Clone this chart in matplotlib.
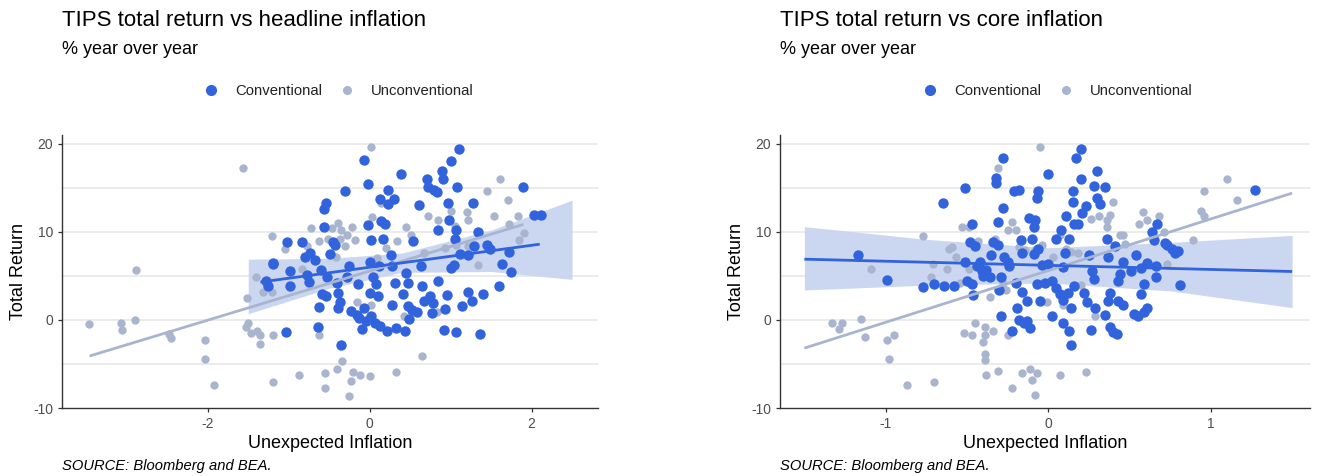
import matplotlib
matplotlib.use("Agg")
import matplotlib.pyplot as plt
from matplotlib.lines import Line2D
import numpy as np

plt.rcParams['font.family'] = ['Liberation Sans', 'DejaVu Sans']

# ---------------- data: headline panel ----------------
head_unconv_x = [-3.47, -3.07, -3.06, -2.90, -2.88, -2.48, -2.45, -2.03, -2.04, -1.92, -1.57, -1.52, -1.53,
                 -1.50, -1.46, -1.40, -1.39, -1.35, -1.36, -1.32, -1.21, -1.21, -1.19, -1.20, -1.05, -0.87,
                 -0.83, -0.73, -0.77, -0.63, -0.62, -0.55, -0.55, -0.52, -0.47, -0.41, -0.39, -0.40, -0.37,
                 -0.35, -0.31, -0.28, -0.22, -0.18, -0.23, -0.20, -0.25, -0.34, -0.12, -0.16, 0.00, 0.02,
                 0.03, 0.02, 0.09, 0.14, 0.20, 0.34, 0.33, 0.45, 0.51, 0.42, 0.65, 0.67, 0.72, 0.83, 0.85,
                 0.93, 1.01, 1.06, 1.20, 1.21, 1.21, 1.34, 1.45, 1.54, 1.61, 1.71, 1.72, 1.83, 1.85, 1.90, 1.07]
head_unconv_y = [-0.5, -0.4, -1.1, 0.0, 5.7, -1.6, -2.0, -2.3, -4.4, -7.4, 17.2, 2.5, -0.8,
                 -0.3, -1.5, 4.9, -1.3, -1.7, -2.7, 3.2, 3.2, 9.5, -1.7, -7.1, 8.1, -6.3,
                 5.8, 10.4, 8.4, -1.7, 9.0, -6.0, -7.7, 9.2, 10.4, 7.1, 11.0, -5.6, 9.2,
                 10.2, 8.4, 9.6, 10.5, 9.1, -6.9, -5.9, -8.6, -4.7, -6.2, 2.0, -6.4, 19.6,
                 11.7, 1.7, 7.0, 13.3, 8.2, 9.0, -5.9, 10.5, 9.6, 0.4, -4.1, 7.6, 11.8, 0.9, 11.4,
                 8.2, 12.4, 10.7, 12.2, 11.4, 8.4, 6.2, 14.6, 11.8, 16.0, 13.6, 10.9, 11.8, 9.1, 9.9, 8.5]

head_conv_x = [-1.03, -1.19, -1.20, -1.28, -1.26, -1.02, -0.99, -0.98, -0.83, -0.80, -0.78, -0.75, -0.74,
               -0.67, -0.64, -0.62, -0.60, -0.59, -0.57, -0.54, -0.57, -0.54, -0.53, -0.49, -0.45, -0.43,
               -0.40, -0.39, -0.37, -0.39, -0.35, -0.30, -0.28, -0.26, -0.23, -0.16, -0.15, -0.13, -0.10,
               -0.07, -0.07, -0.04, -0.02, -0.02, 0.00, 0.02, 0.01, 0.04, 0.02, 0.07, 0.08, 0.10, 0.12,
               0.13, 0.13, 0.14, 0.17, 0.19, 0.21, 0.23, 0.23, 0.26, 0.27, 0.28, 0.30, 0.31, 0.32, 0.39,
               0.41, 0.44, 0.45, 0.47, 0.47, 0.49, 0.52, 0.54, 0.59, 0.61, 0.63, 0.65, 0.67, 0.71, 0.72,
               0.75, 0.77, 0.78, 0.80, 0.83, 0.84, 0.85, 0.89, 0.90, 0.92, 0.93, 0.95, 0.97, 0.98, 1.00,
               1.01, 1.04, 1.06, 1.07, 1.07, 1.08, 1.10, 1.11, 1.14, 1.21, 1.22, 1.26, 1.28, 1.29, 1.34,
               1.36, 1.40, 1.45, 1.48, 1.60, 1.64, 1.72, 1.75, 1.89, 2.03, 2.12]
head_conv_y = [-1.4, 6.3, 6.5, 4.4, 3.9, 8.9, 5.6, 3.8, 8.9, 7.2, 5.1, 4.3, 7.6,
               6.8, -0.8, 1.5, 5.7, 3.0, 12.6, 13.3, 10.5, 2.7, 4.9, 7.5, 8.9, 8.5,
               4.2, 3.1, 2.0, 1.3, -2.9, 14.6, 4.9, 6.1, 1.0, 0.6, 4.1, 0.2, -1.0,
               18.2, 1.4, -0.1, 15.4, 10.8, 3.1, 9.1, 6.6, 4.9, 0.4, -0.4, 4.1, 2.7, 6.1,
               -0.7, 13.7, 11.2, 9.2, 10.9, -1.3, 14.8, 13.2, 7.4, 6.1, 1.7, 13.7, 4.2, -0.9, 16.6,
               3.0, -1.2, 5.3, 4.2, 1.6, 0.1, 1.1, 9.0, 0.9, 13.0, 6.1, 3.8, 2.1, 16.0, 15.1,
               2.7, 0.8, 1.9, 14.7, 14.5, 10.2, 4.4, 16.9, 16.0, -1.1, 1.2, 2.8, 13.3, 11.3, 5.9,
               18.1, 6.2, 9.2, -1.4, 10.2, 15.1, 19.4, 7.5, 1.6, 7.4, 3.2, 2.1, 13.3, 8.4, 10.0,
               -1.6, 3.0, 8.5, 8.1, 3.9, 6.4, 7.7, 5.4, 15.1, 11.9, 11.9]

head_conv_fit_x = [-1.35, 2.10]
head_conv_fit_y = [4.3, 8.6]
head_unconv_fit_x = [-3.46, 1.90]
head_unconv_fit_y = [-4.1, 10.85]
head_band_x = [-1.5, -0.5, 0.4, 1.5, 2.5]
head_band_lo = [0.7, 3.6, 5.4, 5.5, 4.6]
head_band_hi = [6.9, 7.0, 7.6, 10.2, 13.6]

# ---------------- data: core panel ----------------
core_unconv_x = [-1.33, -1.29, -1.27, -1.15, -1.13, -1.09, -0.99, -0.95, -0.98, -0.87, -0.77, -0.72, -0.71,
                 -0.70, -0.62, -0.61, -0.59, -0.57, -0.53, -0.52, -0.49, -0.49, -0.47, -0.45, -0.54, -0.43,
                 -0.40, -0.39, -0.39, -0.39, -0.39, -0.38, -0.36, -0.34, -0.33, -0.31, -0.31, -0.28, -0.26,
                 -0.25, -0.25, -0.22, -0.22, -0.20, -0.18, -0.16, -0.14, -0.11, -0.10, -0.08, -0.07, -0.08,
                 -0.05, -0.04, -0.04, -0.01, 0.03, 0.07, 0.07, 0.09, 0.11, 0.14, 0.18, 0.20, 0.23, 0.26,
                 0.29, 0.31, 0.36, 0.36, 0.40, 0.38, 0.44, 0.46, 0.47, 0.56, 0.58, 0.61, 0.68, 0.71, 0.73,
                 0.89, 0.94, 0.96, 0.96, 1.10, 1.16]
core_unconv_y = [-0.4, -1.0, -0.3, 0.05, -1.9, 5.8, -2.3, -1.7, -4.4, -7.4, 9.5, 4.9, 6.4,
                 -7.0, 5.8, 8.1, 8.3, 7.1, 10.5, -1.5, 10.5, 5.8, -1.7, -0.4, 4.2, 9.0,
                 -2.5, -0.8, -1.7, -3.9, -4.6, -6.2, 2.6, -1.3, 9.2, 17.3, -5.8, 4.2, 3.4,
                 10.2, -1.7, -7.7, 11.1, 10.2, 8.3, -6.0, 7.9, -5.6, -6.8, -8.5, -6.0, 7.9,
                 19.6, 8.5, 4.2, 2.0, 7.1, -6.3, 9.6, 1.7, 8.1, 7.7, 7.6, 4.0, -5.9, 11.5,
                 0.5, 11.8, 10.6, 11.3, 13.4, 11.9, 9.7, 9.6, 8.6, 10.9, 12.3, 11.4, 11.8, 10.0, 6.4,
                 9.1, 12.4, 11.8, 14.6, 16.0, 13.6]

core_conv_x = [-1.17, -0.99, -0.77, -0.70, -0.65, -0.64, -0.58, -0.51, -0.51, -0.50, -0.47, -0.48, -0.47,
               -0.46, -0.45, -0.44, -0.42, -0.41, -0.40, -0.38, -0.36, -0.35, -0.34, -0.32, -0.32, -0.31,
               -0.31, -0.30, -0.29, -0.29, -0.28, -0.28, -0.27, -0.25, -0.24, -0.22, -0.21, -0.20, -0.19,
               -0.18, -0.18, -0.17, -0.16, -0.16, -0.15, -0.13, -0.13, -0.12, -0.11, -0.10, -0.09, -0.09,
               -0.08, -0.07, -0.07, -0.06, -0.06, -0.05, -0.04, -0.02, 0.00, 0.00, 0.02, 0.02, 0.05, 0.05,
               0.07, 0.08, 0.09, 0.09, 0.09, 0.10, 0.11, 0.12, 0.13, 0.13, 0.14, 0.14, 0.15, 0.15, 0.16,
               0.16, 0.17, 0.18, 0.20, 0.20, 0.21, 0.22, 0.23, 0.24, 0.25, 0.26, 0.27, 0.28, 0.28, 0.29,
               0.30, 0.30, 0.32, 0.35, 0.35, 0.36, 0.37, 0.37, 0.38, 0.38, 0.40, 0.41, 0.42, 0.43, 0.43,
               0.44, 0.46, 0.46, 0.51, 0.53, 0.54, 0.55, 0.57, 0.57, 0.59, 0.59, 0.61, 0.61, 0.64, 0.65,
               0.66, 0.67, 0.66, 0.72, 0.73, 0.76, 0.78, 0.80, 0.81, 1.27]
core_conv_y = [7.4, 4.5, 3.7, 4.1, 13.3, 3.9, 3.9, 6.6, 15.0, 4.4, 4.1, 8.8, 10.9,
               2.8, 8.4, 6.1, 6.6, 5.5, 5.0, 5.7, 4.9, 7.4, 8.9, 16.1, 15.5, 11.1,
               8.5, 3.4, 0.5, 4.9, 12.7, 18.4, 7.1, 6.6, 6.1, -1.3, 14.6, 4.2, 1.3,
               14.8, 0.0, 9.1, 7.6, 3.2, -0.4, 2.2, -0.1, 11.6, -0.9, 9.2, 7.5, 10.5,
               11.4, 4.1, 13.9, 14.6, 8.1, 2.1, 6.2, 4.2, 6.4, 16.6, 4.4, 0.4, 9.2, 3.6,
               2.9, 10.2, 6.0, -0.4, 2.3, 7.6, 11.8, 3.1, -1.3, 9.2, -2.9, 1.3, 13.4, 14.6, 10.9,
               3.8, 18.4, 10.9, 19.4, 16.0, 12.1, 3.1, 12.9, 2.0, 7.4, -1.1, 5.5, 4.6, 15.2, 1.3,
               16.9, 13.9, 13.2, 0.6, 15.1, 9.2, 7.2, 2.1, 3.1, -0.8, -1.4, 8.4, -1.6, 4.4, 2.1,
               5.2, 6.6, 1.7, 5.5, 0.7, 7.4, 0.4, 2.9, 5.9, 0.9, 4.1, 1.3, 6.5, 10.0, 9.1,
               4.9, 10.9, 6.1, 8.7, 8.5, 8.1, 7.6, 7.8, 4.0, 14.8]

core_conv_fit_x = [-1.5, 1.5]
core_conv_fit_y = [6.9, 5.5]
core_unconv_fit_x = [-1.5, 1.5]
core_unconv_fit_y = [-3.2, 14.4]
core_band_x = [-1.5, -0.75, 0.0, 0.75, 1.5]
core_band_lo = [3.4, 3.95, 4.2, 3.3, 1.4]
core_band_hi = [10.6, 9.15, 8.2, 8.8, 9.6]

titles = ["TIPS total return vs headline inflation", "TIPS total return vs core inflation"]
subtitle = "% year over year"
source = "SOURCE: Bloomberg and BEA."
series_names = ["Conventional", "Unconventional"]

BLUE = "#3163DC"
GRAY = "#A9B4CF"
BAND = "#C9D5F1"

W, H = 1317, 476
fig = plt.figure(figsize=(W / 100, H / 100), dpi=100)

panels = [
    dict(ux=head_unconv_x, uy=head_unconv_y, cx=head_conv_x, cy=head_conv_y,
         cfx=head_conv_fit_x, cfy=head_conv_fit_y, ufx=head_unconv_fit_x, ufy=head_unconv_fit_y,
         bx=head_band_x, blo=head_band_lo, bhi=head_band_hi,
         xlim=(-3.8, 2.82), xticks=[-2, 0, 2], left=62, right=598, title=titles[0], legx=339),
    dict(ux=core_unconv_x, uy=core_unconv_y, cx=core_conv_x, cy=core_conv_y,
         cfx=core_conv_fit_x, cfy=core_conv_fit_y, ufx=core_unconv_fit_x, ufy=core_unconv_fit_y,
         bx=core_band_x, blo=core_band_lo, bhi=core_band_hi,
         xlim=(-1.65, 1.61), xticks=[-1, 0, 1], left=780, right=1310, title=titles[1], legx=1058),
]

top_px, bot_px = 135, 408
for p in panels:
    ax = fig.add_axes([p['left'] / W, 1 - bot_px / H, (p['right'] - p['left']) / W, (bot_px - top_px) / H])
    ax.set_xlim(*p['xlim'])
    ax.set_ylim(-10.0, 21.0)
    for gy in [-5, 0, 5, 10, 15, 20]:
        ax.axhline(gy, color="#EBEBEB", lw=1.4, zorder=0)
    ax.fill_between(p['bx'], p['blo'], p['bhi'], color=BAND, lw=0, zorder=1, alpha=0.95)
    ax.scatter(p['ux'], p['uy'], s=36, color=GRAY, lw=0, zorder=2)
    ax.scatter(p['cx'], p['cy'], s=56, color=BLUE, lw=0, zorder=3)
    ax.plot(p['ufx'], p['ufy'], color=GRAY, lw=2.0, zorder=4, solid_capstyle='butt')
    ax.plot(p['cfx'], p['cfy'], color=BLUE, lw=2.0, zorder=5, solid_capstyle='butt')
    ax.set_xticks(p['xticks'])
    ax.set_xticklabels([str(t) for t in p['xticks']])
    ax.set_yticks([-10, 0, 10, 20])
    ax.set_yticklabels(["-10", "0", "10", "20"])
    for s in ['top', 'right']:
        ax.spines[s].set_visible(False)
    for s in ['left', 'bottom']:
        ax.spines[s].set_color("#333333")
        ax.spines[s].set_linewidth(1.0)
    ax.tick_params(axis='both', colors="#333333", labelcolor="#4D4D4D", labelsize=10, length=3, width=0.9)
    ax.set_xlabel("Unexpected Inflation", fontsize=13, color="black", labelpad=3)
    ax.set_ylabel("Total Return", fontsize=13, color="black", labelpad=4)
    ax.set_facecolor("white")

    handles = [Line2D([], [], marker='o', ls='none', color=BLUE, markersize=7),
               Line2D([], [], marker='o', ls='none', color=GRAY, markersize=5.5)]
    leg_x = (p['legx'] - p['left']) / (p['right'] - p['left'])
    leg = ax.legend(handles, series_names, loc='center',
                    bbox_to_anchor=(leg_x, (bot_px - 91) / (bot_px - top_px)),
                    ncol=2, frameon=False, fontsize=10.7, handletextpad=1.1, columnspacing=1.2,
                    handlelength=1.0)
    for t in leg.get_texts():
        t.set_color("#222222")

    fig.text(p['left'] / W, 1 - 20 / H, p['title'], fontsize=16, va='center', ha='left')
    fig.text(p['left'] / W, 1 - 49 / H, subtitle, fontsize=13, va='center', ha='left')
    fig.text(p['left'] / W, 1 - 466 / H, source, fontsize=10.6, style='italic', va='center', ha='left')

fig.savefig("out.png", dpi=100, facecolor="white")
